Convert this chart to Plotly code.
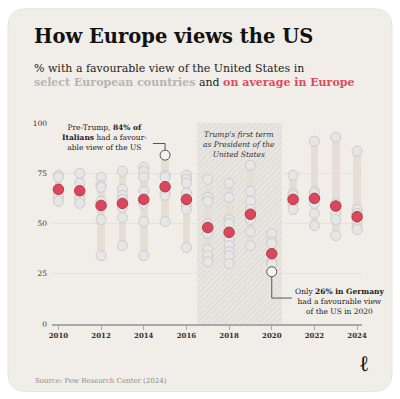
import plotly.graph_objects as go

# ---------------- data ----------------
years = list(range(2010, 2025))
v2010 = [74, 73, 65, 63, 61]
v2011 = [75, 70, 64, 62, 60]
v2012 = [73, 69, 68, 61, 58, 52, 34]
v2013 = [76, 67, 64, 62, 58, 53, 39]
v2014 = [78, 76, 73, 66, 60, 51, 34]
v2015 = [74, 73, 65, 64, 51]
v2016 = [74, 72, 70, 65, 61, 59, 57, 38]
v2017 = [72, 63, 61, 50, 46, 45, 37, 34, 31]
v2018 = [70, 63, 52, 50, 42, 39, 36, 34, 30]
v2019 = [79, 66, 61, 57, 52, 46, 39]
v2020 = [45, 41, 40, 31, 30]
v2021 = [74, 65, 64, 62, 60, 57]
v2022 = [91, 66, 65, 60, 55, 49]
v2023 = [93, 60, 58, 55, 52, 44]
v2024 = [86, 57, 55, 51, 48, 47]
country_values = [v2010, v2011, v2012, v2013, v2014, v2015, v2016, v2017,
                  v2018, v2019, v2020, v2021, v2022, v2023, v2024]
europe_avg = [67, 66.3, 59, 60, 62, 68.3, 62, 48, 45.6, 54.6, 35, 62, 62.5, 58.7, 53.4]
highlight_years = [2015, 2020]
highlight_values = [84, 26]   # Italy 2015, Germany 2020
trump_term = [2016.5, 2020.5]
ytick_vals = [0, 25, 50, 75, 100]
xtick_vals = [2010, 2012, 2014, 2016, 2018, 2020, 2022, 2024]

# ---------------- geometry ----------------
W, H = 400, 399
L, R, T, B = 52, 38, 122.7, 74.7
PW, PH = W - L - R, H - T - B
def px2x(px):
    return (px - L) / PW
def py2y(py):
    return (H - B - py) / PH

BG = "#f1eeea"
SERIF = "DejaVu Serif"

fig = go.Figure()

# Trump first term hatched band
fig.add_trace(go.Bar(
    x=[(trump_term[0] + trump_term[1]) / 2], y=[100], base=[0],
    width=[trump_term[1] - trump_term[0]],
    marker=dict(color="#e8e5e1", line=dict(width=0),
                pattern=dict(shape="/", fgcolor="#d3cfca", bgcolor="#e9e6e2",
                             size=4, solidity=0.3)),
    hoverinfo="skip", showlegend=False))

# range bars
mins, maxs = [], []
for yr, vals in zip(years, country_values):
    allv = list(vals)
    if yr in highlight_years:
        allv.append(highlight_values[highlight_years.index(yr)])
    mins.append(min(allv))
    maxs.append(max(allv))
fig.add_trace(go.Bar(
    x=years, y=[mx - mn for mn, mx in zip(mins, maxs)], base=mins, width=0.36,
    marker=dict(color="#e6ddd3", line=dict(width=0)), opacity=0.95,
    hoverinfo="skip", showlegend=False))

# country dots
gx, gy = [], []
for yr, vals in zip(years, country_values):
    for v in vals:
        gx.append(yr)
        gy.append(v)
fig.add_trace(go.Scatter(
    x=gx, y=gy, mode="markers", cliponaxis=False,
    marker=dict(size=10, color="#e6e6e7", line=dict(color="#cbcbcb", width=1)),
    showlegend=False))

# highlighted dots
fig.add_trace(go.Scatter(
    x=highlight_years, y=highlight_values, mode="markers", cliponaxis=False,
    marker=dict(size=10, color="#f3f3f3", line=dict(color="#555555", width=1)),
    showlegend=False))

# europe average
fig.add_trace(go.Scatter(
    x=years, y=europe_avg, mode="markers", cliponaxis=False,
    marker=dict(size=10.5, color="#d9475a", line=dict(color="#b8394a", width=1)),
    showlegend=False))

shapes = []
# card
x0, x1, y0, y1, r = px2x(8), px2x(392), py2y(392), py2y(8), 18
rx, ry = r / PW, r / PH
card = (f"M {x0+rx},{y1} L {x1-rx},{y1} Q {x1},{y1} {x1},{y1-ry} "
        f"L {x1},{y0+ry} Q {x1},{y0} {x1-rx},{y0} L {x0+rx},{y0} "
        f"Q {x0},{y0} {x0},{y0+ry} L {x0},{y1-ry} Q {x0},{y1} {x0+rx},{y1} Z")
shapes.append(dict(type="path", path=card, xref="paper", yref="paper",
                   fillcolor=BG, line=dict(color="#e8e5e0", width=1), layer="below"))
# connectors
shapes.append(dict(type="path", xref="x", yref="y",
                   path="M 2014.43,89.8 L 2015,89.8 L 2015,86.6",
                   line=dict(color="#555555", width=1)))
shapes.append(dict(type="path", xref="x", yref="y",
                   path="M 2020,23.4 L 2020,12.9 L 2020.94,12.9",
                   line=dict(color="#555555", width=1)))

annotations = [
    dict(text="<b>How Europe views the US</b>", x=px2x(32), y=py2y(36),
         xref="paper", yref="paper", xanchor="left", yanchor="middle",
         showarrow=False, font=dict(family=SERIF, size=19.5, color="#111111")),
    dict(text="% with a favourable view of the United States in<br>"
              "<b><span style='color:#b5b5b5'>select European countries</span></b> and "
              "<b><span style='color:#e04a5d'>on average in Europe</span></b>",
         x=px2x(32), y=py2y(75), xref="paper", yref="paper",
         xanchor="left", yanchor="middle", align="left",
         showarrow=False, font=dict(family=SERIF, size=11, color="#222222")),
    dict(text="Pre-Trump, <b>84% of</b><br><b>Italians</b> had a favour-<br>able view of the US",
         x=px2x(104.5), y=py2y(137), xref="paper", yref="paper",
         xanchor="center", yanchor="middle", align="center", showarrow=False,
         font=dict(family=SERIF, size=7.5, color="#222222")),
    dict(text="<i>Trump's first term<br>as President of the<br>United States</i>",
         x=px2x(239.3), y=py2y(144), xref="paper", yref="paper",
         xanchor="center", yanchor="middle", align="center", showarrow=False,
         font=dict(family=SERIF, size=7.5, color="#333333")),
    dict(text="Only <b>26% in Germany</b><br>had a favourable view<br>of the US in 2020",
         x=px2x(339.3), y=py2y(301.7), xref="paper", yref="paper",
         xanchor="center", yanchor="middle", align="center", showarrow=False,
         font=dict(family=SERIF, size=7.5, color="#222222")),
    dict(text="Source: Pew Research Center (2024)", x=px2x(33), y=py2y(381),
         xref="paper", yref="paper", xanchor="left", yanchor="middle",
         showarrow=False, font=dict(family=SERIF, size=7, color="#8a8a8a")),
    dict(text="<b>ℓ</b>", x=px2x(364), y=py2y(363), xref="paper", yref="paper",
         xanchor="center", yanchor="middle", showarrow=False,
         font=dict(family=SERIF, size=22, color="#111111")),
]

fig.update_layout(
    width=W, height=H, autosize=False,
    margin=dict(l=L, r=R, t=T, b=B),
    paper_bgcolor="white", plot_bgcolor="rgba(0,0,0,0)",
    barmode="overlay", bargap=0,
    shapes=shapes, annotations=annotations,
    font=dict(family=SERIF, color="#333333"),
    xaxis=dict(range=[2009.70, 2024.23], tickvals=xtick_vals,
               ticktext=[f"<b>{v}</b>" for v in xtick_vals],
               showgrid=False, zeroline=False, showline=True,
               linecolor="#a9a9a9", linewidth=1.5,
               ticks="outside", ticklen=4, tickcolor="#a9a9a9", tickwidth=1,
               tickfont=dict(family=SERIF, size=7, color="#333333")),
    yaxis=dict(range=[0, 100], tickvals=ytick_vals, showgrid=True,
               gridcolor="#e5e1db", gridwidth=1, zeroline=False, showline=False,
               ticks="", ticklabelstandoff=4,
               tickfont=dict(family=SERIF, size=7.5, color="#333333")),
    hovermode=False,
)

fig.write_html("out.html", config={"displayModeBar": False},
               post_script="document.body.style.margin='0';document.body.style.overflow='hidden';")
